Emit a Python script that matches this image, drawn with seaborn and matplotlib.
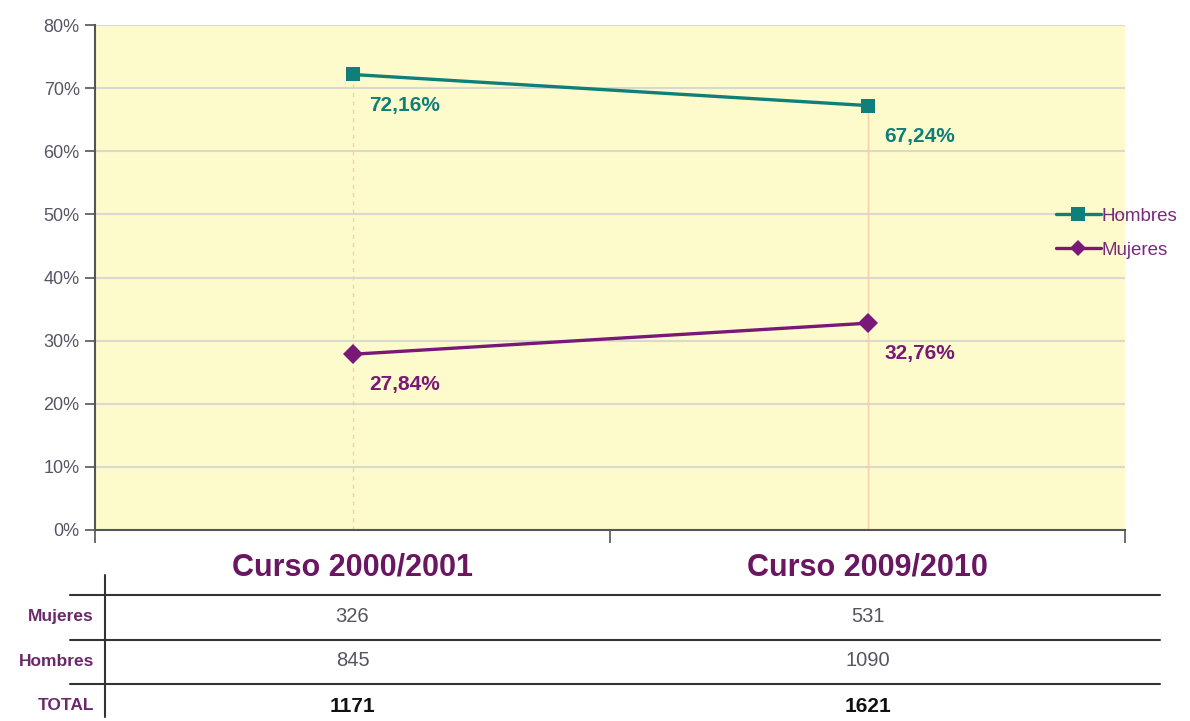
import matplotlib
matplotlib.use("Agg")
import matplotlib.pyplot as plt
import matplotlib.transforms as mtransforms
from matplotlib.lines import Line2D
import seaborn as sns
import pandas as pd

# ---- data ----
categories = ["Curso 2000/2001", "Curso 2009/2010"]
series_names = ["Hombres", "Mujeres"]
hombres_pct = [72.16, 67.24]
mujeres_pct = [27.84, 32.76]
pct_labels_h = ["72,16%", "67,24%"]
pct_labels_m = ["27,84%", "32,76%"]
row_labels = ["Mujeres", "Hombres", "TOTAL"]
mujeres_n = [326, 531]
hombres_n = [845, 1090]
total_n = [1171, 1621]
yticks = [0, 10, 20, 30, 40, 50, 60, 70, 80]

TEAL = "#0f7f7a"
PURPLE = "#7a1878"
HEAD = "#6a1660"

sns.set_theme(style="white")
plt.rcParams["font.family"] = ["Liberation Sans", "DejaVu Sans"]

df = pd.DataFrame({
    "x": list(range(len(categories))) * 2,
    "value": hombres_pct + mujeres_pct,
    "serie": [series_names[0]] * 2 + [series_names[1]] * 2,
})

fig = plt.figure(figsize=(11.9, 7.21), dpi=100)
ax = fig.add_axes([95 / 1190, 1 - 530 / 721, 1030 / 1190, 505 / 721])
ax.set_facecolor("#fdfbcc")

# drop lines
for i, (h, m) in enumerate(zip(hombres_pct, mujeres_pct)):
    ax.plot([i, i], [0, max(h, m)], color="#f6cfa8", lw=1,
            ls=(0, (3, 3)) if i == 0 else "-", zorder=1)

sns.lineplot(data=df, x="x", y="value", hue="serie", style="serie",
             palette={"Hombres": TEAL, "Mujeres": PURPLE},
             markers={"Hombres": "s", "Mujeres": "D"}, dashes=False,
             markersize=10, linewidth=2.4, markeredgewidth=0, ax=ax, zorder=3,
             legend=False)

ax.set_xlim(-0.5, len(categories) - 0.5)
ax.set_ylim(0, 80)
ax.set_yticks(yticks)
ax.set_yticklabels([f"{t}%" for t in yticks], color="#555566", fontsize=13)
ax.yaxis.grid(True, color="#d9d9d0", lw=1.5)
ax.set_axisbelow(True)
ax.set_xticks([-0.5, 0.5, 1.5])
ax.set_xticklabels([])
ax.tick_params(axis="x", direction="out", length=9, width=1.2, color="#555555", bottom=True)
ax.tick_params(axis="y", direction="out", length=7, width=1.2, color="#555555", left=True, pad=4)
ax.set_xlabel("")
ax.set_ylabel("")
for s in ["top", "right"]:
    ax.spines[s].set_visible(False)
for s in ["left", "bottom"]:
    ax.spines[s].set_color("#555555")
    ax.spines[s].set_linewidth(1.5)

# data labels
for vals, labs, col in [(hombres_pct, pct_labels_h, TEAL), (mujeres_pct, pct_labels_m, PURPLE)]:
    for i, (v, lab) in enumerate(zip(vals, labs)):
        ax.annotate(lab, (i, v), xytext=(12, -22), textcoords="offset points",
                    ha="left", va="center", fontsize=15, fontweight="bold", color=col)

# legend
handles = [Line2D([], [], color=TEAL, marker="s", lw=2.4, ms=10, mew=0),
           Line2D([], [], color=PURPLE, marker="D", lw=2.4, ms=8, mew=0)]
leg = fig.legend(handles, series_names, loc="center left",
                 bbox_to_anchor=(1039 / 1190, 1 - 233 / 721), frameon=False,
                 fontsize=13.5, handlelength=2.4, handletextpad=0.05, labelspacing=0.9)
for t in leg.get_texts():
    t.set_color("#7a2a7a")

# table below
trans = mtransforms.blended_transform_factory(ax.transData, fig.transFigure)
for i, cat in enumerate(categories):
    fig.text(i, 1 - 568 / 721, cat, transform=trans, ha="center", va="center",
             fontsize=22, fontweight="bold", color=HEAD)
rows_y = [617, 661, 706]
row_vals = [mujeres_n, hombres_n, total_n]
for r, (lab, vals, yy) in enumerate(zip(row_labels, row_vals, rows_y)):
    fig.text(94 / 1190, 1 - yy / 721, lab, ha="right", va="center",
             fontsize=12.5, fontweight="bold", color="#6a2a6a")
    for i, v in enumerate(vals):
        fig.text(i, 1 - yy / 721, str(v), transform=trans, ha="center", va="center",
                 fontsize=14.5 if r < 2 else 15, fontweight="bold" if r == 2 else "normal",
                 color="#111111" if r == 2 else "#555560")
for yy in [595, 640, 684]:
    fig.add_artist(Line2D([70 / 1190, 1160 / 1190], [1 - yy / 721] * 2,
                          color="#333333", lw=1.5))
fig.add_artist(Line2D([105 / 1190] * 2, [1 - 575 / 721, 1 - 717 / 721],
                      color="#333333", lw=1.5))

fig.savefig("out.png", dpi=100, facecolor="white")
